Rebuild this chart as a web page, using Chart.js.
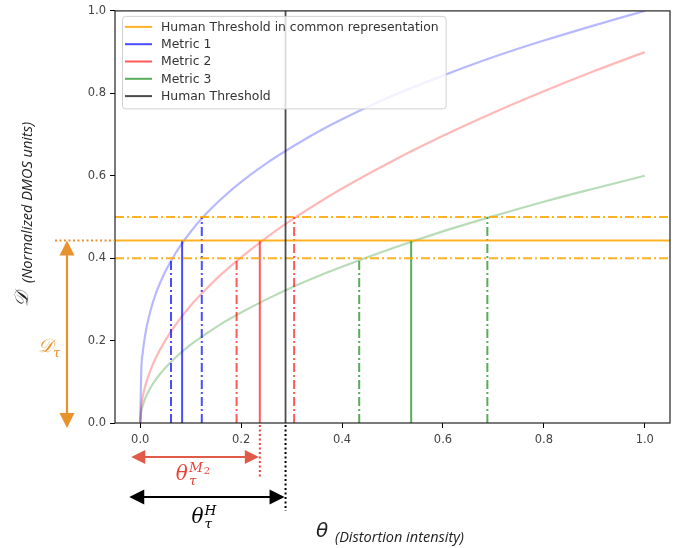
<!DOCTYPE html>
<html>
<head>
<meta charset="utf-8">
<script src="https://cdn.jsdelivr.net/npm/chart.js@4.4.1/dist/chart.umd.min.js"></script>
<style>
  html, body { margin: 0; padding: 0; background: #fff; }
</style>
</head>
<body>
<canvas id="thresholdChart" width="689" height="548"></canvas>
<script>
// Curve samples
const curveX = [0, 0.002, 0.005, 0.01, 0.02, 0.03, 0.05, 0.07, 0.1, 0.13, 0.16, 0.2, 0.25, 0.3, 0.35, 0.4, 0.5, 0.6, 0.7, 0.8, 0.9, 1.0];
const metric1Curve = [0, 0.126, 0.171, 0.215, 0.271, 0.311, 0.368, 0.412, 0.464, 0.507, 0.543, 0.585, 0.630, 0.669, 0.705, 0.737, 0.794, 0.843, 0.888, 0.928, 0.965, 1.0];
const metric2Curve = [0, 0.040, 0.064, 0.090, 0.127, 0.156, 0.201, 0.238, 0.285, 0.324, 0.360, 0.402, 0.450, 0.493, 0.532, 0.569, 0.636, 0.697, 0.753, 0.805, 0.854, 0.900];
const metric3Curve = [0, 0.027, 0.042, 0.060, 0.085, 0.104, 0.134, 0.159, 0.190, 0.216, 0.240, 0.268, 0.300, 0.329, 0.355, 0.379, 0.424, 0.465, 0.502, 0.537, 0.569, 0.600];

// lower bound, human threshold, upper bound (D units)
const levels = [0.4, 0.443, 0.5];
// theta where each metric hits lower / threshold / upper level
const metric1Cross = [0.061, 0.083, 0.122];
const metric2Cross = [0.191, 0.237, 0.305];
const metric3Cross = [0.434, 0.537, 0.688];
const humanThreshold = 0.288;

const xTicks = [0, 0.2, 0.4, 0.6, 0.8, 1.0];
const yTicks = [0, 0.2, 0.4, 0.6, 0.8, 1.0];
const xMin = -0.05, xMax = 1.05;
const seriesNames = ["Human Threshold in common representation", "Metric 1", "Metric 2", "Metric 3", "Human Threshold"];

const ORANGE = "rgba(255,165,0,0.85)";
const BLUE = "rgba(0,0,255,0.7)";
const RED = "rgba(255,0,0,0.65)";
const GREEN = "rgba(0,128,0,0.65)";
const BLACK = "rgba(0,0,0,0.7)";
const DASHDOT = [9, 3, 2, 3];

function pts(xs, ys) { return xs.map((x, i) => ({ x: x, y: ys[i] })); }
function seg(x0, y0, x1, y1) { return [{ x: x0, y: y0 }, { x: x1, y: y1 }]; }

function lineSet(data, color, opts) {
  return Object.assign({
    data: data, showLine: true, borderColor: color, backgroundColor: color,
    borderWidth: 2, pointRadius: 0, pointHoverRadius: 0, fill: false, tension: 0
  }, opts || {});
}

const datasets = [];
// human threshold (black vertical)
datasets.push(lineSet(seg(humanThreshold, 0, humanThreshold, 1), BLACK, { label: seriesNames[4], legendIdx: 4, borderWidth: 1.8 }));
// horizontal levels
levels.forEach((lv, i) => {
  const solid = i === 1;
  datasets.push(lineSet(seg(xMin, lv, xMax, lv), ORANGE, solid ?
    { label: seriesNames[0], legendIdx: 0 } : { borderDash: DASHDOT }));
});
// vertical drops per metric
[[metric1Cross, BLUE, 1], [metric2Cross, RED, 2], [metric3Cross, GREEN, 3]].forEach(([cross, color, li]) => {
  cross.forEach((cx, i) => {
    const solid = i === 1;
    datasets.push(lineSet(seg(cx, 0, cx, levels[i]), color, solid ?
      { label: seriesNames[li], legendIdx: li } : { borderDash: DASHDOT }));
  });
});
// light curves
datasets.push(lineSet(pts(curveX, metric1Curve), "rgba(0,0,255,0.28)", { cubicInterpolationMode: "monotone", borderWidth: 2.2 }));
datasets.push(lineSet(pts(curveX, metric2Curve), "rgba(255,0,0,0.28)", { cubicInterpolationMode: "monotone", borderWidth: 2.2 }));
datasets.push(lineSet(pts(curveX, metric3Curve), "rgba(0,128,0,0.28)", { cubicInterpolationMode: "monotone", borderWidth: 2.2 }));

const tickFont = { family: "DejaVu Sans", size: 11.5 };

function arrow(ctx, x0, y0, x1, y1, color, head) {
  const ang = Math.atan2(y1 - y0, x1 - x0);
  const hl = head, hw = head / 2;
  ctx.save();
  ctx.strokeStyle = color; ctx.fillStyle = color; ctx.lineWidth = 2.2;
  ctx.beginPath();
  ctx.moveTo(x0 + Math.cos(ang) * hl * 0.8, y0 + Math.sin(ang) * hl * 0.8);
  ctx.lineTo(x1 - Math.cos(ang) * hl * 0.8, y1 - Math.sin(ang) * hl * 0.8);
  ctx.stroke();
  [[x1, y1, ang], [x0, y0, ang + Math.PI]].forEach(([tx, ty, a]) => {
    ctx.beginPath();
    ctx.moveTo(tx, ty);
    ctx.lineTo(tx - Math.cos(a) * hl - Math.sin(a) * hw, ty - Math.sin(a) * hl + Math.cos(a) * hw);
    ctx.lineTo(tx - Math.cos(a) * hl + Math.sin(a) * hw, ty - Math.sin(a) * hl - Math.cos(a) * hw);
    ctx.closePath();
    ctx.fill();
  });
  ctx.restore();
}

// base symbol with subscript and superscript, centred on cx
function mathLabel(ctx, cx, y, base, sub, sup, supSub, color, size) {
  const serif = "\"DejaVu Serif\", \"Liberation Serif\", serif";
  ctx.save();
  ctx.fillStyle = color;
  ctx.textBaseline = "alphabetic";
  ctx.font = "italic " + size + "px " + serif;
  const bw = ctx.measureText(base).width;
  ctx.font = "italic " + (size * 0.68) + "px " + serif;
  const subW = ctx.measureText(sub).width;
  const supW = sup ? ctx.measureText(sup).width : 0;
  ctx.font = "" + (size * 0.5) + "px " + serif;
  const ssW = supSub ? ctx.measureText(supSub).width + 1 : 0;
  const total = bw + 1 + Math.max(subW, supW + ssW);
  let x = cx - total / 2;
  ctx.font = "italic " + size + "px " + serif;
  ctx.fillText(base, x, y);
  x += bw + 1;
  ctx.font = "italic " + (size * 0.68) + "px " + serif;
  ctx.fillText(sub, x, y + size * 0.25);
  if (sup) {
    ctx.fillText(sup, x, y - size * 0.42);
    if (supSub) {
      ctx.font = "" + (size * 0.5) + "px " + serif;
      ctx.fillText(supSub, x + supW + 1, y - size * 0.3);
    }
  }
  ctx.restore();
}

const decorations = {
  id: "decorations",
  afterDatasetsDraw(chart) {
    const ctx = chart.ctx;
    const a = chart.chartArea;
    const xs = chart.scales.x, ys = chart.scales.y;

    // frame
    ctx.save();
    ctx.strokeStyle = "#222"; ctx.lineWidth = 1.2;
    ctx.strokeRect(a.left, a.top, a.right - a.left, a.bottom - a.top);
    ctx.restore();

    // legend
    const items = chart.data.datasets.filter(d => d.legendIdx !== undefined)
      .sort((p, q) => p.legendIdx - q.legendIdx);
    ctx.save();
    ctx.font = "12.4px \"DejaVu Sans\"";
    const tw = Math.max(...items.map(d => ctx.measureText(d.label).width));
    const bx = a.left + 7, by = a.top + 5, rowH = 17.3;
    const bw = 38 + tw + 8, bh = items.length * rowH + 6;
    ctx.fillStyle = "rgba(255,255,255,0.8)";
    ctx.strokeStyle = "rgba(204,204,204,0.9)"; ctx.lineWidth = 1;
    ctx.beginPath();
    ctx.roundRect(bx + 0.5, by + 0.5, bw, bh, 3);
    ctx.fill(); ctx.stroke();
    items.forEach((d, i) => {
      const ry = by + 11 + i * rowH;
      ctx.strokeStyle = d.borderColor; ctx.lineWidth = 2;
      ctx.beginPath(); ctx.moveTo(bx + 3, ry); ctx.lineTo(bx + 30, ry); ctx.stroke();
      ctx.fillStyle = "#333"; ctx.textBaseline = "middle";
      ctx.fillText(d.label, bx + 39, ry + 0.5);
    });
    ctx.restore();

    // outside annotations
    const thrY = ys.getPixelForValue(levels[1]);
    const zeroY = ys.getPixelForValue(0);
    const x0 = xs.getPixelForValue(0);
    const xM2 = xs.getPixelForValue(metric2Cross[1]);
    const xH = xs.getPixelForValue(humanThreshold);
    const ORA = "#e8922e";

    ctx.save();
    ctx.lineWidth = 2;
    ctx.setLineDash([2, 2.5]);
    ctx.strokeStyle = ORA;
    ctx.beginPath(); ctx.moveTo(55, thrY); ctx.lineTo(a.left, thrY); ctx.stroke();
    ctx.strokeStyle = "#e8433a";
    ctx.beginPath(); ctx.moveTo(xM2, a.bottom + 2); ctx.lineTo(xM2, 479); ctx.stroke();
    ctx.strokeStyle = "#000";
    ctx.beginPath(); ctx.moveTo(xH, a.bottom + 2); ctx.lineTo(xH, 511); ctx.stroke();
    ctx.restore();

    arrow(ctx, 67, thrY, 67, zeroY + 5, ORA, 15);
    arrow(ctx, x0 - 9, 457, xM2 - 1, 457, "#e05a48", 14);
    arrow(ctx, x0 - 11, 497, xH - 1, 497, "#000", 15);

    // math labels
    ctx.save();
    ctx.fillStyle = ORA;
    ctx.font = "italic 19px \"DejaVu Serif\", serif";
    ctx.textBaseline = "alphabetic";
    ctx.fillText("\uD835\uDC9F", 38, 352);
    ctx.font = "italic 13px \"DejaVu Serif\", serif";
    ctx.fillText("\u03C4", 53, 357);
    ctx.restore();
    mathLabel(ctx, 193, 480, "\u03B8", "\u03C4", "M", "2", "#e8433a", 20);
    mathLabel(ctx, 204, 523, "\u03B8", "\u03C4", "H", "", "#000", 20);

    // axis titles
    ctx.save();
    ctx.fillStyle = "#222";
    ctx.textBaseline = "alphabetic";
    ctx.font = "italic 20px \"DejaVu Sans\"";
    ctx.fillText("\u03B8", 316, 537);
    ctx.font = "italic 14.5px \"Open Sans\"";
    ctx.fillText("(Distortion intensity)", 335, 542);
    ctx.translate(30, 307);
    ctx.rotate(-Math.PI / 2);
    ctx.font = "italic 19px \"DejaVu Serif\", serif";
    ctx.fillText("\uD835\uDC9F", 0, -2);
    ctx.font = "italic 14.5px \"Open Sans\"";
    ctx.fillText("(Normalized DMOS units)", 24, 2);
    ctx.restore();
  }
};

new Chart(document.getElementById("thresholdChart").getContext("2d"), {
  type: "scatter",
  data: { datasets: datasets },
  options: {
    responsive: false,
    animation: false,
    layout: { padding: { left: 0, right: 19, top: 10, bottom: 0 } },
    scales: {
      x: {
        type: "linear", min: xMin, max: xMax,
        afterBuildTicks: s => { s.ticks = xTicks.map(v => ({ value: v })); },
        afterFit: s => { s.height = 125; },
        grid: { drawOnChartArea: false, drawTicks: true, tickLength: 5, color: "#000" },
        border: { display: false },
        ticks: { padding: 5, color: "#444", font: tickFont, callback: v => v.toFixed(1) }
      },
      y: {
        type: "linear", min: 0, max: 1,
        afterBuildTicks: s => { s.ticks = yTicks.map(v => ({ value: v })); },
        afterFit: s => { s.width = 115; },
        grid: { drawOnChartArea: false, drawTicks: true, tickLength: 5, color: "#000" },
        border: { display: false },
        ticks: { padding: 4, color: "#444", font: tickFont, callback: v => v.toFixed(1) }
      }
    },
    plugins: {
      legend: { display: false },
      tooltip: { enabled: false }
    }
  },
  plugins: [decorations]
});
</script>
</body>
</html>
